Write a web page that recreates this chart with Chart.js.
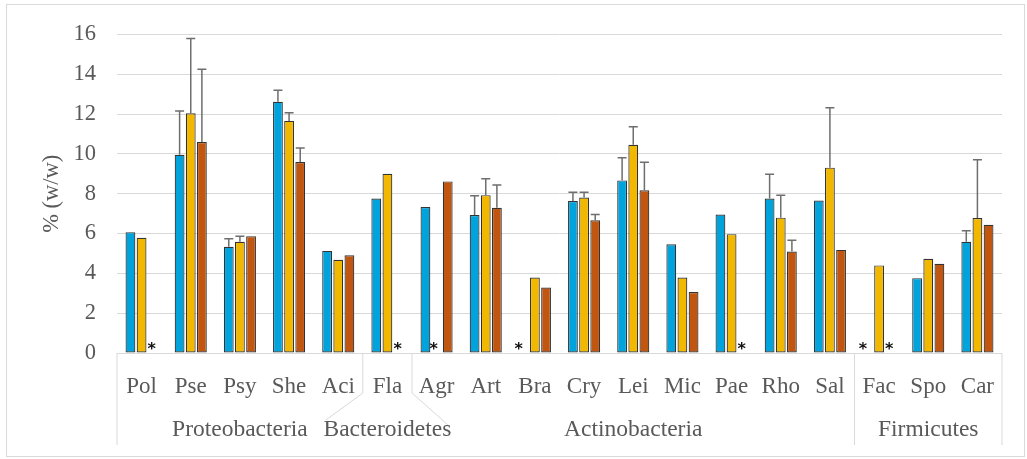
<!DOCTYPE html>
<html>
<head>
<meta charset="utf-8">
<script src="https://cdn.jsdelivr.net/npm/chart.js@4/dist/chart.umd.min.js"></script>
<style>
  html, body { margin: 0; padding: 0; background: #fff; }
  #wrap { width: 1027px; height: 459px; }
</style>
</head>
<body>
<div id="wrap"><canvas id="graphe" width="1027" height="459"></canvas></div>
<script>
// categories et groupes (phylum)
const genres = ['Pol', 'Pse', 'Psy', 'She', 'Aci', 'Fla', 'Agr', 'Art', 'Bra', 'Cry', 'Lei', 'Mic', 'Pae', 'Rho', 'Sal', 'Fac', 'Spo', 'Car'];
const phylums = ['Proteobacteria', 'Bacteroidetes', 'Actinobacteria', 'Firmicutes'];
const tailleGroupes = [5, 1, 9, 3];

// valeurs en % (w/w), null = non détecté (*)
const serieBleue = [6.07, 9.96, 5.34, 12.62, 5.13, 7.76, 7.33, 6.93, null, 7.63, 8.67, 5.46, 6.96, 7.76, 7.66, null, 3.76, 5.59];
const serieJaune = [5.79, 12.04, 5.59, 11.66, 4.68, 9.00, null, 7.93, 3.79, 7.81, 10.46, 3.79, 5.97, 6.80, 9.31, 4.40, 4.73, 6.78];
const serieOrange = [null, 10.60, 5.87, 9.59, 4.91, null, 8.62, 7.30, 3.29, 6.67, 8.17, 3.06, null, 5.10, 5.18, null, 4.48, 6.44];

// barres d'erreur (partie haute seulement)
const erreurBleue = [0, 2.20, 0.40, 0.58, 0, 0, 0, 0.97, 0, 0.44, 1.14, 0, 0, 1.22, 0, 0, 0, 0.55];
const erreurJaune = [0, 3.76, 0.28, 0.41, 0, 0, 0, 0.82, 0, 0.26, 0.90, 0, 0, 1.13, 3.01, 0, 0, 2.93];
const erreurOrange = [0, 3.66, 0, 0.71, 0, 0, 0, 1.14, 0, 0.29, 1.41, 0, 0, 0.57, 0, 0, 0, 0];

const ticksY = [0, 2, 4, 6, 8, 10, 12, 14, 16];

const gris = '#595959';
const police = 'Liberation Serif';

// cadre, barres d'erreur, asterisques, libellés de groupe
const decor = {
    id: 'decor',
    beforeDraw(chart) {
        const c = chart.ctx;
        c.save();
        c.fillStyle = '#fff';
        c.fillRect(0, 0, chart.width, chart.height);
        c.strokeStyle = '#d9d9d9';
        c.lineWidth = 1;
        c.strokeRect(6.5, 4.5, 1018, 452);
        c.restore();
    },
    afterDatasetsDraw(chart) {
        const c = chart.ctx;
        const y = chart.scales.y;
        const x = chart.scales.x;
        const area = chart.chartArea;
        const erreurs = [erreurBleue, erreurJaune, erreurOrange];
        const decalage = [-5, -3, -1];
        c.save();

        chart.data.datasets.forEach((ds, d) => {
            const meta = chart.getDatasetMeta(d);
            meta.data.forEach((bar, i) => {
                const v = ds.data[i];
                if (v === null) {
                    c.font = 'bold 16px "DejaVu Sans"';
                    c.fillStyle = '#111';
                    c.textAlign = 'center';
                    c.textBaseline = 'alphabetic';
                    const m = c.measureText('*');
                    const yy = area.bottom - 7 - (m.actualBoundingBoxDescent - m.actualBoundingBoxAscent) / 2;
                    c.fillText('*', bar.x + decalage[d], yy);
                    return;
                }
                const e = erreurs[d][i];
                if (!e) return;
                const y0 = y.getPixelForValue(v);
                const y1 = y.getPixelForValue(v + e);
                c.strokeStyle = '#6e6e6e';
                c.lineWidth = 1.5;
                c.beginPath();
                c.moveTo(bar.x, y0);
                c.lineTo(bar.x, y1);
                c.moveTo(bar.x - 4.5, y1);
                c.lineTo(bar.x + 4.5, y1);
                c.stroke();
            });
        });

        // séparateurs de groupes sous l'axe
        const pas = (x.getPixelForTick(1) - x.getPixelForTick(0));
        const bord = i => x.getPixelForTick(0) - pas / 2 + i * pas;
        c.strokeStyle = '#d9d9d9';
        c.lineWidth = 1;
        c.beginPath();
        [0, 15, 18].forEach(i => {
            c.moveTo(bord(i), area.bottom);
            c.lineTo(bord(i), area.bottom + 92);
        });
        c.moveTo(bord(5), area.bottom);
        c.lineTo(bord(5), area.bottom + 40);
        c.lineTo(bord(5) - 37, area.bottom + 67);
        c.moveTo(bord(6), area.bottom);
        c.lineTo(bord(6), area.bottom + 40);
        c.lineTo(bord(6) + 36, area.bottom + 72);
        c.stroke();

        // libellés des phylums
        c.font = '23.5px "' + police + '"';
        c.fillStyle = gris;
        c.textAlign = 'center';
        c.textBaseline = 'middle';
        let debut = 0;
        phylums.forEach((p, k) => {
            const fin = debut + tailleGroupes[k];
            c.fillText(p, (bord(debut) + bord(fin)) / 2, area.bottom + 77);
            debut = fin;
        });
        c.restore();
    }
};

const ctx = document.getElementById('graphe').getContext('2d');
new Chart(ctx, {
    type: 'bar',
    data: {
        labels: genres,
        datasets: [
            { data: serieBleue, backgroundColor: '#00a3dc' },
            { data: serieJaune, backgroundColor: '#f2b800' },
            { data: serieOrange, backgroundColor: '#c0560f' }
        ].map(ds => Object.assign(ds, {
            borderColor: '#333333',
            borderWidth: 1.2,
            borderSkipped: false,
            categoryPercentage: 0.68,
            barPercentage: 0.88
        }))
    },
    options: {
        responsive: false,
        animation: false,
        layout: { padding: { left: 6, right: 25, top: 31, bottom: 6 } },
        plugins: {
            legend: { display: false },
            tooltip: { enabled: false }
        },
        scales: {
            x: {
                grid: { display: false },
                border: { display: false },
                ticks: {
                    color: gris,
                    font: { family: police, size: 23 },
                    padding: 12,
                    maxRotation: 0,
                    autoSkip: false
                },
                afterFit: s => { s.height = 100; }
            },
            y: {
                min: 0,
                max: 16,
                afterBuildTicks: s => { s.ticks = ticksY.map(v => ({ value: v })); },
                grid: { color: '#d9d9d9', lineWidth: 1, drawTicks: false },
                border: { display: false },
                ticks: {
                    color: gris,
                    font: { family: police, size: 22.5 },
                    padding: 21
                },
                title: {
                    display: true,
                    text: '% (w/w)',
                    color: gris,
                    font: { family: police, size: 22.5 },
                    padding: { top: 33, bottom: 0 }
                },
                afterFit: s => { s.width = 111; }
            }
        }
    },
    plugins: [decor]
});
</script>
</body>
</html>
